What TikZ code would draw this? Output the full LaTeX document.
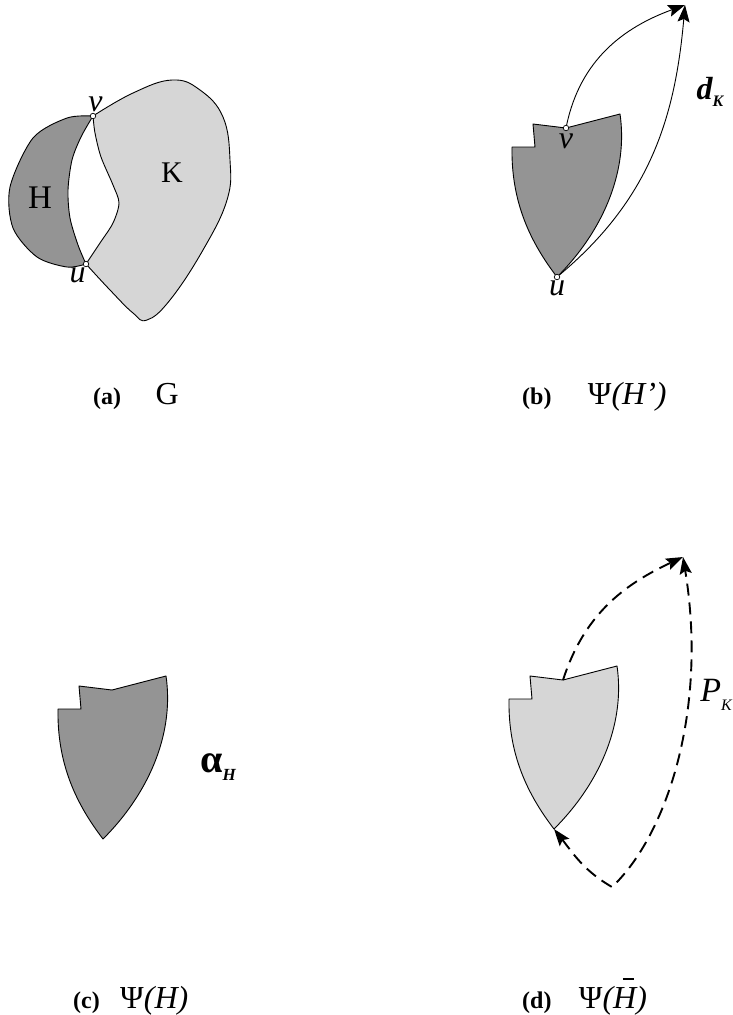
\documentclass[tikz,border=0pt]{standalone}
\usepackage{fontspec}
\setmainfont{Liberation Serif}
\usetikzlibrary{arrows.meta,positioning}

\begin{document}
\begin{tikzpicture}[
    x=1pt, y=-1pt,
    >={Stealth[length=17pt, width=12pt, inset=3pt]},
    dark/.style={draw, fill=black!42, line width=0.9pt, line join=round},
    light/.style={draw, fill=black!16, line width=0.9pt, line join=round},
    vtx/.style={draw, circle, fill=white, inner sep=0pt, minimum size=5.5pt, line width=0.7pt},
    conn/.style={->, line width=0.9pt},
    walk/.style={line width=1.9pt, dash pattern=on 12pt off 7pt},
    tag/.style={font=\fontsize{24}{28}\selectfont\bfseries, inner sep=0pt, anchor=base west},
    capt/.style={font=\fontsize{32}{36}\selectfont, inner sep=0pt},
    lab/.style={inner sep=0pt},
    shield/.pic={
      \path[pic actions] (0,0) -- (54,-14)
        .. controls (62,40) and (40,100) .. (-9,149)
        .. controls (-35,115) and (-55,75) .. (-54,19)
        -- (-31,19) -- (-33,-4) -- cycle;
    }
]
\useasboundingbox (0,0) rectangle (733,1015);

% (a) the graph G
\path[light] plot[smooth, tension=0.7] coordinates {(93,116) (133,93) (172,80) (200,90) (223,117) (230,160) (227,200) (203,250) (170,300) (147,320) (133,313) (110,290) (86,264)}
  -- plot[smooth] coordinates {(86,264) (100,243) (113,223) (119,203) (113,185) (101,157) (95,133) (93,116)} -- cycle;
\path[dark] plot[smooth] coordinates {(93,116) (67,118) (33,138) (10,187) (13,228) (37,257) (67,267) (86,264)}
  -- plot[smooth] coordinates {(86,264) (78,245) (70,218) (68,190) (72,160) (81,137) (93,116)} -- cycle;
\node[vtx] (va) at (93,116) {};
\node[vtx] (ua) at (86,264) {};
\node[lab, font=\fontsize{33}{33}\selectfont] (ha) at (40,198) {H};
\node[lab, font=\fontsize{30}{30}\selectfont] (ka) at (172,173) {K};
\node[lab, font=\fontsize{32}{32}\selectfont\itshape, above left=2pt and -12pt of va] (lva) {v};
\node[lab, font=\fontsize{32}{32}\selectfont\itshape, below left=1pt and -2pt of ua] (lua) {u};

% (b) Psi(H')
\pic[dark] at (566,128) {shield};
\node[vtx] (vb) at (566,128) {};
\node[vtx] (ub) at (557,277) {};
\coordinate (tb) at (685,5);
\draw[conn] (vb) to[out=78, in=200] (tb);
\draw[conn] (ub) to[out=40, in=-95] (tb);
\node[lab, font=\fontsize{32}{32}\selectfont\itshape, below=3pt of vb] (lvb) {v};
\node[lab, font=\fontsize{32}{32}\selectfont\itshape, below=1pt of ub] (lub) {u};
\node[lab, font=\fontsize{32}{32}\selectfont\bfseries\itshape] (dk) at (710,92) {d\raisebox{-0.22em}{\fontsize{16}{16}\selectfont K}};

% (c) Psi(H)
\pic[dark] at (112,690) {shield};
\node[lab, font=\fontsize{40}{40}\selectfont\bfseries] (ah) at (218,767) {α\raisebox{-0.22em}{\fontsize{17}{17}\selectfont\itshape H}};

% (d) Psi(H bar)
\pic[light] at (563,680) {shield};
\coordinate (vd) at (563,680);
\coordinate (ud) at (554,829);
\coordinate (td) at (683,557);
\coordinate (bd) at (612,887);
\draw[walk, ->] (vd) to[out=72, in=205] (td);
\draw[walk, <->] (ud) to[out=-52, in=150] (bd) .. controls (667,835) and (708,710) .. (td);
\node[lab, font=\fontsize{34}{34}\selectfont\itshape] (pk) at (716,695) {P\raisebox{-0.25em}{\fontsize{16}{16}\selectfont K}};

% captions
\node[tag] (ta) at (93,404) {(a)};
\node[capt, base right=34pt of ta] (ga) {G};
\node[tag] (tb2) at (522,404) {(b)};
\node[capt, base right=36pt of tb2] (gb) {Ψ\textit{(H’)}};
\node[tag] (tc) at (73,1008) {(c)};
\node[capt, base right=20pt of tc] (gc) {Ψ\textit{(H)}};
\node[tag] (td2) at (522,1008) {(d)};
\node[capt, base right=27pt of td2] (gd) {Ψ\textit{(\makebox[0pt][l]{\hspace{0.3em}\rule[0.86em]{0.36em}{0.08em}}H)}};
\end{tikzpicture}
\end{document}
